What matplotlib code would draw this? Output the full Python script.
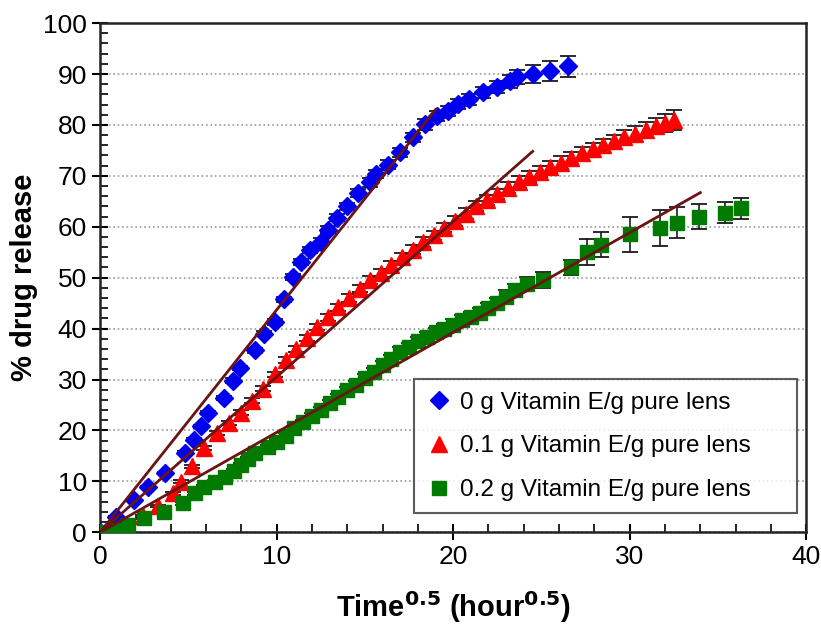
import matplotlib
matplotlib.use('Agg')
import matplotlib.pyplot as plt
from matplotlib.ticker import MultipleLocator
from matplotlib.lines import Line2D

plt.rcParams['font.family'] = ['Liberation Sans', 'DejaVu Sans']

# 0 g Vitamin E/g pure lens
x_blue = [0, 0.9, 1.9, 2.7, 3.7, 4.8, 5.3, 5.7, 6.1, 7.0, 7.5, 7.9, 8.8, 9.3, 9.9, 10.4,
          10.9, 11.4, 11.9, 12.5, 12.9, 13.4, 14.0, 14.6, 15.3, 15.6, 16.3, 17.0, 17.7,
          18.4, 19.1, 19.7, 20.3, 20.9, 21.7, 22.5, 23.2, 23.6, 24.5, 25.5, 26.5]
y_blue = [0, 3.0, 6.3, 8.9, 11.7, 15.6, 18.2, 20.8, 23.5, 26.4, 29.8, 32.2, 35.7, 39.0,
          41.3, 45.8, 50.2, 53.1, 55.5, 57.1, 59.4, 61.8, 64.0, 66.7, 68.7, 70.3, 72.2,
          74.6, 77.6, 80.1, 81.7, 82.7, 84.1, 85.0, 86.4, 87.4, 88.6, 89.4, 90.0, 90.6, 91.5]
e_blue = [0, 0.2, 0.2, 0.2, 0.2, 0.3, 0.3, 0.3, 0.3, 0.4, 0.4, 0.4, 0.4, 0.5, 0.5, 0.5,
          0.6, 0.6, 0.6, 0.6, 0.7, 0.7, 0.7, 0.8, 0.8, 0.8, 0.9, 0.9, 0.9, 1.0, 1.0, 1.0,
          1.0, 1.1, 1.1, 1.2, 1.3, 1.4, 1.8, 1.9, 2.0]

# 0.1 g Vitamin E/g pure lens
x_red = [0, 1.4, 2.4, 3.3, 4.1, 4.6, 5.2, 5.9, 6.6, 7.3, 8.0, 8.6, 9.2, 9.9, 10.5, 11.1,
         11.7, 12.3, 12.9, 13.5, 14.1, 14.7, 15.3, 15.9, 16.5, 17.1, 17.7, 18.3, 18.9,
         19.5, 20.1, 20.7, 21.3, 21.9, 22.5, 23.1, 23.7, 24.3, 24.9, 25.5, 26.1, 26.7,
         27.3, 27.9, 28.5, 29.1, 29.7, 30.3, 30.9, 31.5, 32.0, 32.5]
y_red = [0, 1.5, 3.2, 5.2, 7.7, 9.9, 13.0, 16.5, 19.5, 21.5, 23.5, 25.8, 28.2, 31.0, 33.8,
         36.0, 38.2, 40.3, 42.2, 44.2, 46.0, 47.8, 49.5, 51.0, 52.5, 54.0, 55.5, 57.0,
         58.3, 59.8, 61.2, 62.6, 64.0, 65.3, 66.5, 67.7, 68.8, 69.8, 70.8, 71.7, 72.6,
         73.5, 74.4, 75.2, 76.0, 76.8, 77.6, 78.3, 79.0, 79.8, 80.4, 81.0]
e_red = [0, 0.2, 0.2, 0.2, 0.3, 0.3, 0.3, 0.4, 0.4, 0.4, 0.5, 0.5, 0.5, 0.5, 0.6, 0.6,
         0.6, 0.6, 0.7, 0.7, 0.7, 0.7, 0.8, 0.8, 0.8, 0.8, 0.9, 0.9, 0.9, 0.9, 1.0, 1.0,
         1.0, 1.0, 1.0, 1.1, 1.1, 1.1, 1.1, 1.2, 1.2, 1.2, 1.2, 1.3, 1.3, 1.3, 1.4, 1.4,
         1.5, 1.6, 1.8, 2.0]

# 0.2 g Vitamin E/g pure lens
x_green = [0, 0.8, 1.6, 2.5, 3.6, 4.7, 5.4, 5.9, 6.5, 7.1, 7.6, 8.0, 8.4, 8.8, 9.5, 10.0,
           10.5, 11.0, 11.5, 12.0, 12.5, 13.0, 13.5, 14.0, 14.5, 15.0, 15.5, 16.0, 16.5,
           17.0, 17.5, 18.0, 18.5, 19.0, 19.5, 20.0, 20.5, 21.0, 21.5, 22.0, 22.5, 23.0,
           23.5, 24.2, 25.1, 26.7, 27.6, 28.4, 30.0, 31.7, 32.7, 33.9, 35.4, 36.3]
y_green = [0, 0.5, 1.4, 2.8, 4.0, 5.7, 7.7, 8.9, 9.9, 10.8, 12.0, 13.2, 14.3, 15.5, 16.7,
           17.8, 19.0, 20.4, 21.6, 22.8, 24.0, 25.3, 26.5, 27.9, 29.0, 30.3, 31.5, 32.8,
           34.0, 35.5, 36.4, 37.5, 38.4, 39.3, 40.0, 40.8, 41.6, 42.3, 43.0, 44.0, 45.0,
           46.3, 47.5, 48.8, 49.6, 52.0, 55.0, 56.5, 58.5, 59.8, 60.8, 62.0, 62.8, 63.6]
e_green = [0, 0.2, 0.2, 0.2, 0.2, 0.3, 0.3, 0.3, 0.3, 0.3, 0.4, 0.4, 0.4, 0.4, 0.4, 0.5,
           0.5, 0.5, 0.5, 0.6, 0.6, 0.6, 0.6, 0.7, 0.7, 0.7, 0.7, 0.8, 0.8, 0.8, 0.8, 0.9,
           0.9, 0.9, 0.9, 1.0, 1.0, 1.0, 1.0, 1.1, 1.1, 1.2, 1.2, 1.3, 1.6, 1.5, 2.5, 2.5,
           3.5, 3.5, 3.0, 2.5, 2.0, 2.0]

# linear fits (start, end)
fit_x = [[0, 19.0], [0, 24.5], [0, 34.0]]
fit_y = [[0, 83.0], [0, 74.8], [0, 66.7]]

labels = ['0 g Vitamin E/g pure lens', '0.1 g Vitamin E/g pure lens',
          '0.2 g Vitamin E/g pure lens']
colors = ['#0000ee', '#ff0000', '#007a00']
markers = ['D', '^', 's']
sizes = [9, 11, 10]

fig = plt.figure(figsize=(8.21, 6.24), dpi=100)
ax = fig.add_axes([0.122, 0.147, 0.860, 0.816])

data = [(x_blue, y_blue, e_blue), (x_red, y_red, e_red), (x_green, y_green, e_green)]
for (xs, ys, es), c, m, ms in zip(data, colors, markers, sizes):
    ax.errorbar(xs, ys, yerr=es, fmt=m, color=c, ms=ms, mec=c,
                ecolor='#1a1a1a', elinewidth=1.2, capsize=6, capthick=1.3, zorder=3)

for fx, fy in zip(fit_x, fit_y):
    ax.plot(fx, fy, color='#6b1414', lw=2, zorder=4)

ax.set_xlim(0, 40)
ax.set_ylim(0, 100)
ax.xaxis.set_major_locator(MultipleLocator(10))
ax.xaxis.set_minor_locator(MultipleLocator(2))
ax.yaxis.set_major_locator(MultipleLocator(10))
ax.yaxis.set_minor_locator(MultipleLocator(2))
ax.tick_params(which='major', direction='inout', length=12, width=1.5, labelsize=19)
ax.tick_params(which='minor', direction='in', length=6, width=1.2)
for s in ax.spines.values():
    s.set_linewidth(1.8)
    s.set_color('#222222')

ax.yaxis.grid(True, linestyle=':', color='#999999', lw=1.2)
ax.set_axisbelow(True)

ax.set_xlabel('Time$^{\\mathbf{0.5}}$ (hour$^{\\mathbf{0.5}}$)', fontsize=21,
              fontweight='bold', labelpad=14)
ax.set_ylabel('% drug release', fontsize=21, fontweight='bold', labelpad=4)

handles = [Line2D([], [], linestyle='none', marker=m, color=c, ms=ms)
           for c, m, ms in zip(colors, markers, sizes)]
# trailing spaces give the wide right margin of the original legend box
leg = ax.legend(handles, [lab + '     ' for lab in labels], loc='lower right',
                fontsize=17.5, frameon=True, fancybox=False, handlelength=1.0,
                handletextpad=0.4, borderpad=0.5, labelspacing=0.9,
                borderaxespad=0, bbox_to_anchor=(0.987, 0.037))
leg.get_frame().set_edgecolor('#333333')
leg.get_frame().set_linewidth(1.5)

plt.savefig('out.png', dpi=100)
